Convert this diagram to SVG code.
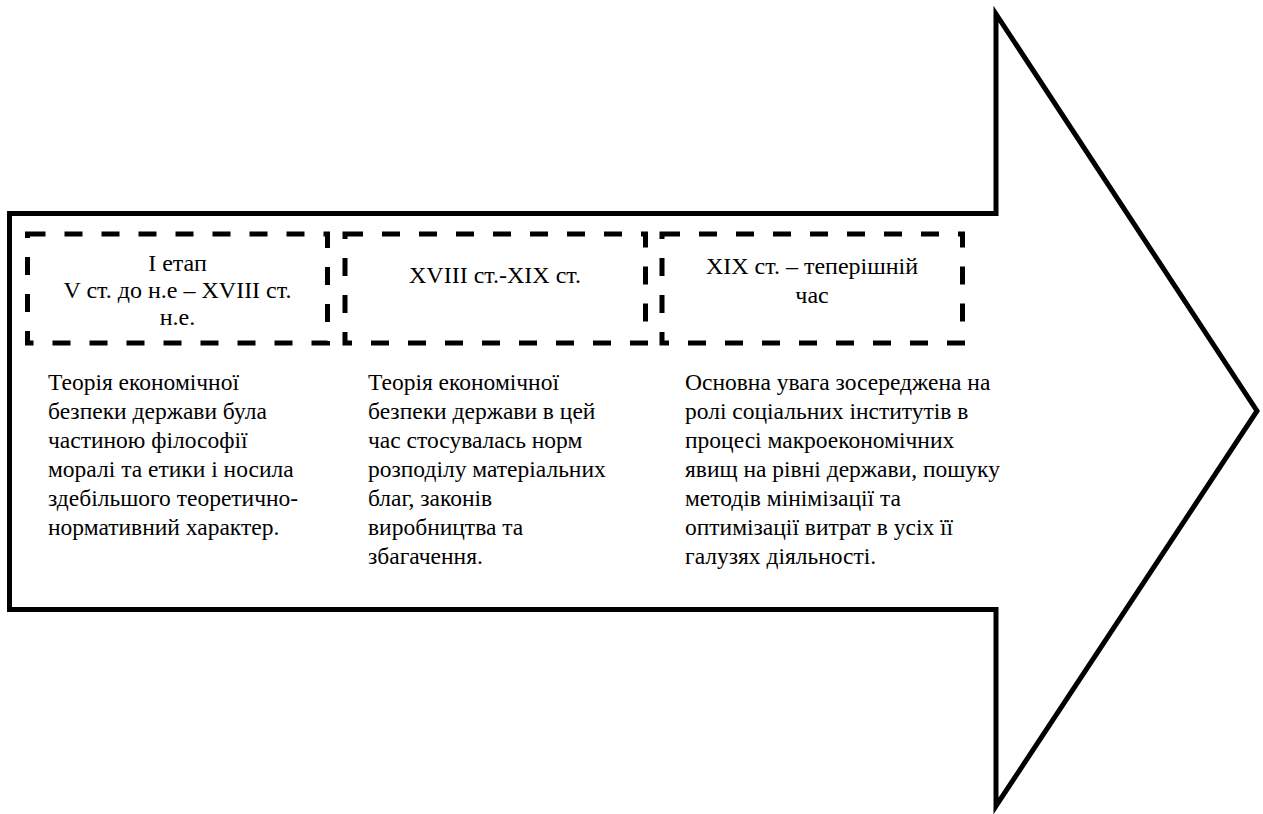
<svg xmlns="http://www.w3.org/2000/svg" width="1263" height="814" viewBox="0 0 1263 814">
<style>
.arrow{fill:#fff;stroke:#000;stroke-width:5;stroke-linejoin:miter}
.box{fill:none;stroke:#000;stroke-width:5;stroke-dasharray:18 19}
.h{text-anchor:middle;font-size:24px}
</style>
<rect width="1263" height="814" fill="#fff"/>
<g id="arrow">
<polygon class="arrow" points="9.5,213.5 996,213.5 996,14 1257,411 996,806 996,609.5 9.5,609.5"/>
</g>
<g font-family="Liberation Serif, Tinos, Noto Serif, DejaVu Serif, Times New Roman, Times, serif" font-size="23.5" fill="#000">
<g id="stage1">
<rect class="box" x="27.5" y="234" width="300" height="109"/>
<text class="h" x="177.5" y="271">I етап</text>
<text class="h" x="177.5" y="298">V ст. до н.е – XVIII ст.</text>
<text class="h" x="177.5" y="325">н.е.</text>
</g>
<g id="stage2">
<rect class="box" x="345" y="234" width="300.5" height="109"/>
<text class="h" x="495" y="283">XVIII ст.-XIX ст.</text>
</g>
<g id="stage3">
<rect class="box" x="662" y="234" width="300.5" height="109"/>
<text class="h" x="812" y="274">XIX ст. – теперішній</text>
<text class="h" x="812" y="303">час</text>
</g>
<g id="desc1">
<text x="48" y="390">Теорія економічної</text>
<text x="48" y="419">безпеки держави була</text>
<text x="48" y="448">частиною філософії</text>
<text x="48" y="477">моралі та етики і носила</text>
<text x="48" y="506">здебільшого теоретично-</text>
<text x="48" y="535">нормативний характер.</text>
</g>
<g id="desc2">
<text x="368" y="390">Теорія економічної</text>
<text x="368" y="419">безпеки держави в цей</text>
<text x="368" y="448">час стосувалась норм</text>
<text x="368" y="477">розподілу матеріальних</text>
<text x="368" y="506">благ, законів</text>
<text x="368" y="535">виробництва та</text>
<text x="368" y="564">збагачення.</text>
</g>
<g id="desc3">
<text x="685" y="390">Основна увага зосереджена на</text>
<text x="685" y="419">ролі соціальних інститутів в</text>
<text x="685" y="448">процесі макроекономічних</text>
<text x="685" y="477">явищ на рівні держави, пошуку</text>
<text x="685" y="506">методів мінімізації та</text>
<text x="685" y="535">оптимізації витрат в усіх її</text>
<text x="685" y="564">галузях діяльності.</text>
</g>
</g>
</svg>
